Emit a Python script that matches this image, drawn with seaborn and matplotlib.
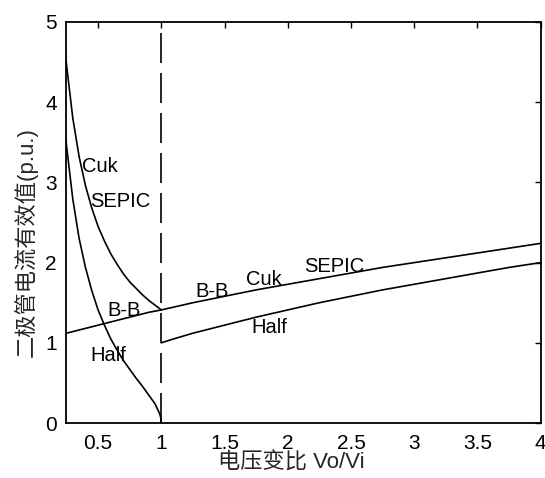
import numpy as np
import pandas as pd
import matplotlib
matplotlib.use("Agg")
import matplotlib.pyplot as plt
import seaborn as sns

# values
# Cuk / SEPIC, step-down side (Vo/Vi < 1)
cuk_x = [0.22, 0.25, 0.3, 0.35, 0.4, 0.45, 0.5, 0.55, 0.6, 0.65, 0.7, 0.75,
         0.8, 0.85, 0.9, 0.95, 1.0]
cuk_y = [5.02, 4.47, 3.80, 3.32, 2.96, 2.68, 2.45, 2.27, 2.11, 1.98, 1.86, 1.76,
         1.68, 1.60, 1.53, 1.47, 1.41]

# Half bridge, step-down side
half_l_x = [0.23, 0.25, 0.3, 0.35, 0.4, 0.45, 0.5, 0.55, 0.6, 0.65, 0.7, 0.75,
            0.8, 0.85, 0.9, 0.95, 0.98, 0.99, 0.997, 1.0]
half_l_y = [3.82, 3.46, 2.79, 2.30, 1.94, 1.65, 1.41, 1.22, 1.05, 0.91, 0.78, 0.67,
            0.56, 0.46, 0.35, 0.24, 0.14, 0.10, 0.055, 0.0]

# Buck-Boost (and Cuk/SEPIC on step-up side), whole range
bb_x = [0.25, 0.35, 0.5, 0.6, 0.75, 0.9, 1.0, 1.25, 1.5, 1.75, 2.0, 2.25, 2.5,
        2.75, 3.0, 3.25, 3.5, 3.75, 4.0]
bb_y = [1.12, 1.16, 1.22, 1.26, 1.32, 1.38, 1.41, 1.50, 1.58, 1.66, 1.73, 1.80,
        1.87, 1.94, 2.00, 2.06, 2.12, 2.18, 2.24]

# Half bridge, step-up side
half_r_x = [1.0, 1.1, 1.25, 1.5, 1.75, 2.0, 2.25, 2.5, 2.75, 3.0, 3.25, 3.5, 3.75, 4.0]
half_r_y = [1.00, 1.05, 1.12, 1.22, 1.32, 1.41, 1.50, 1.58, 1.66, 1.73, 1.80, 1.87,
            1.94, 2.00]

x_ticks = [0.5, 1, 1.5, 2, 2.5, 3, 3.5, 4]
x_labels = ["0.5", "1", "1.5", "2", "2.5", "3", "3.5", "4"]
y_ticks = [0, 1, 2, 3, 4, 5]

# curve annotations: text, x, y
notes = [("Cuk", 0.37, 3.2), ("SEPIC", 0.44, 2.76), ("B-B", 0.57, 1.40),
         ("Half", 0.44, 0.84), ("B-B", 1.27, 1.64), ("Cuk", 1.67, 1.79),
         ("SEPIC", 2.13, 1.95), ("Half", 1.71, 1.19)]

sns.set_style("white")
plt.rcParams['font.family'] = ['Liberation Sans', 'Noto Sans CJK SC', 'DejaVu Sans']
plt.rcParams['axes.unicode_minus'] = False

fig = plt.figure(figsize=(5.45, 4.78), dpi=100)
ax = fig.add_axes([0.122, 0.115, 0.870, 0.839])

for xs, ys in [(cuk_x, cuk_y), (half_l_x, half_l_y), (bb_x, bb_y), (half_r_x, half_r_y)]:
    df = pd.DataFrame({"x": xs, "y": ys})
    sns.lineplot(data=df, x="x", y="y", ax=ax, color="black", lw=1.2,
                 estimator=None, sort=False)

ax.axvline(1, color="black", lw=1.2, dashes=(18, 6))

for txt, tx, ty in notes:
    ax.text(tx, ty, txt, fontsize=14.5, va="center", ha="left", color="black")

ax.set_xlim(0.25, 4)
ax.set_ylim(0, 5)
ax.set_xticks(x_ticks)
ax.set_xticklabels(x_labels)
ax.set_yticks(y_ticks)
ax.tick_params(direction="in", length=4, width=1, top=True, right=True,
               labelsize=15, colors="black")
ax.tick_params(axis="x", pad=8)
ax.tick_params(axis="y", pad=7)
for s in ax.spines.values():
    s.set_color("black")
    s.set_linewidth(1.3)

ax.set_xlabel("电压变比 Vo/Vi", fontsize=16, labelpad=1)
ax.set_ylabel("二极管电流有效值(p.u.)", fontsize=16, labelpad=4)
ax.yaxis.set_label_coords(-0.06, 0.45)
ax.xaxis.set_label_coords(0.475, -0.072)

fig.savefig("out.png", dpi=100)
